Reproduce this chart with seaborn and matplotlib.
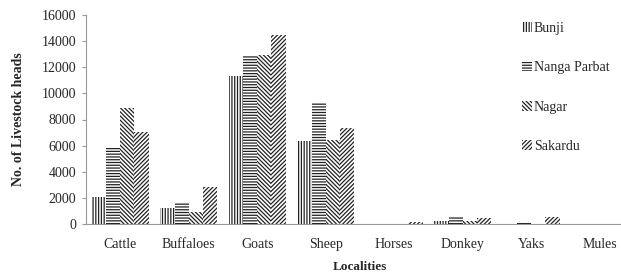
import pandas as pd
import numpy as np
import matplotlib.pyplot as plt
import seaborn as sns
from matplotlib.patches import Patch

# Data
animals = ['Cattle', 'Buffaloes', 'Goats', 'Sheep', 'Horses', 'Donkey', 'Yaks', 'Mules']
bunji = [2100, 1250, 11300, 6350, 0, 200, 0, 0]
nanga_parbat = [5900, 1650, 12900, 9350, 0, 500, 150, 0]
nagar = [8900, 900, 12900, 6400, 0, 250, 0, 0]
sakardu = [7050, 2850, 14450, 7350, 120, 450, 500, 0]
localities = ['Bunji', 'Nanga Parbat', 'Nagar', 'Sakardu']
hatches = ['||||||', '------', '\\\\\\\\\\\\\\\\', '////////']

df = pd.DataFrame({
    'Animal': animals * 4,
    'Locality': np.repeat(localities, len(animals)),
    'Heads': bunji + nanga_parbat + nagar + sakardu,
})

sns.set_style('white')
plt.rcParams['font.family'] = ['Liberation Serif', 'DejaVu Serif']
plt.rcParams['hatch.linewidth'] = 0.9
plt.rcParams['hatch.color'] = '#222222'

fig = plt.figure(figsize=(6.21, 2.75), dpi=100)
ax = fig.add_axes([86 / 621, 51 / 275, 548 / 621, 209 / 275])

sns.barplot(data=df, x='Animal', y='Heads', hue='Locality', order=animals,
            hue_order=localities, color='white', saturation=1, width=0.83,
            edgecolor='#222222', linewidth=0, ax=ax, legend=False)

for container, h in zip(ax.containers, hatches):
    for bar in container:
        bar.set_facecolor('white')
        bar.set_hatch(h)

ax.set_ylim(0, 16000)
ax.set_yticks(range(0, 16001, 2000))
ax.set_xlim(-0.5, 7.5)
ax.set_xlabel('Localities', fontsize=9.5, fontweight='bold', labelpad=7)
ax.set_ylabel('No. of Livestock heads', fontsize=10, fontweight='bold', labelpad=12)
ax.tick_params(axis='y', labelsize=10, length=3, color='#999999', left=True, pad=4)
ax.tick_params(axis='x', labelsize=10, length=0, pad=10)
sns.despine(ax=ax, top=True, right=True)
ax.spines['left'].set_color('#999999')
ax.spines['bottom'].set_color('#999999')

handles = [Patch(facecolor='white', edgecolor='#222222', linewidth=0, hatch=h)
           for h in hatches]
fig.legend(handles, localities, loc='upper left', bbox_to_anchor=(515 / 621, 1 - 15 / 275),
           frameon=False, fontsize=10, handlelength=0.7, handleheight=0.7,
           handletextpad=0.15, labelspacing=1.9, borderpad=0)

fig.savefig('out.png', dpi=100)
